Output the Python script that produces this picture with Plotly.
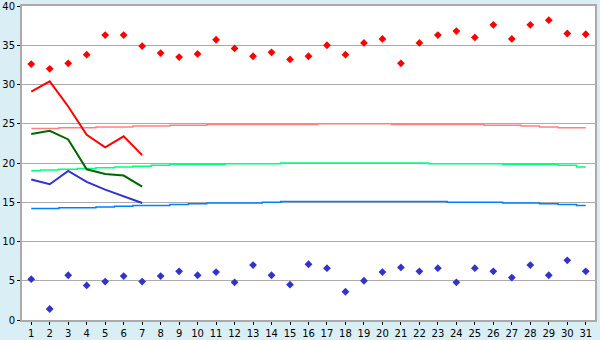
import plotly.graph_objects as go

days = list(range(1, 32))

max_temps = [32.6, 32.0, 32.7, 33.8, 36.3, 36.3, 34.9, 34.0, 33.5, 33.9,
             35.7, 34.6, 33.6, 34.1, 33.2, 33.6, 35.0, 33.8, 35.3, 35.8,
             32.7, 35.3, 36.3, 36.8, 36.0, 37.6, 35.8, 37.6, 38.2, 36.5, 36.4]
min_temps = [5.2, 1.4, 5.7, 4.4, 4.9, 5.6, 4.9, 5.6, 6.2, 5.7,
             6.1, 4.8, 7.0, 5.7, 4.5, 7.1, 6.6, 3.6, 5.0, 6.1,
             6.7, 6.2, 6.6, 4.8, 6.6, 6.2, 5.4, 7.0, 5.7, 7.6, 6.2]

fc_days = [1, 2, 3, 4, 5, 6, 7]
fc_max = [29.1, 30.4, 27.2, 23.6, 22.0, 23.4, 21.0]
fc_mean = [23.7, 24.1, 23.0, 19.2, 18.6, 18.4, 17.0]
fc_min = [17.9, 17.3, 19.0, 17.6, 16.6, 15.7, 14.9]

norm_max = [24.4, 24.4, 24.5, 24.5, 24.6, 24.6, 24.7, 24.7, 24.8, 24.8,
            24.9, 24.9, 24.9, 24.9, 24.9, 24.9, 25.0, 25.0, 25.0, 25.0,
            24.9, 24.9, 24.9, 24.9, 24.9, 24.8, 24.8, 24.7, 24.6, 24.5, 24.5]
norm_mean = [19.0, 19.1, 19.2, 19.3, 19.4, 19.5, 19.6, 19.7, 19.8, 19.8,
             19.8, 19.9, 19.9, 19.9, 20.0, 20.0, 20.0, 20.0, 20.0, 20.0,
             20.0, 20.0, 19.9, 19.9, 19.9, 19.9, 19.8, 19.8, 19.8, 19.7, 19.5]
norm_min = [14.2, 14.2, 14.3, 14.3, 14.4, 14.5, 14.6, 14.6, 14.7, 14.8,
            14.9, 14.9, 14.9, 15.0, 15.1, 15.1, 15.1, 15.1, 15.1, 15.1,
            15.1, 15.1, 15.1, 15.0, 15.0, 15.0, 14.9, 14.9, 14.8, 14.7, 14.6]

fig = go.Figure()

fig.add_trace(go.Scatter(x=days, y=norm_max, mode="lines",
                         line=dict(color="#ff8080", width=1.5, shape="hvh")))
fig.add_trace(go.Scatter(x=days, y=norm_mean, mode="lines",
                         line=dict(color="#00ff80", width=1.5, shape="hvh")))
fig.add_trace(go.Scatter(x=days, y=norm_min, mode="lines",
                         line=dict(color="#0080ff", width=1.5, shape="hvh")))

fig.add_trace(go.Scatter(x=fc_days, y=fc_max, mode="lines",
                         line=dict(color="#ff0000", width=2)))
fig.add_trace(go.Scatter(x=fc_days, y=fc_mean, mode="lines",
                         line=dict(color="#006600", width=2)))
fig.add_trace(go.Scatter(x=fc_days, y=fc_min, mode="lines",
                         line=dict(color="#3333cc", width=2)))

fig.add_trace(go.Scatter(x=days, y=max_temps, mode="markers",
                         marker=dict(symbol="diamond", size=6, color="#ff0000")))
fig.add_trace(go.Scatter(x=days, y=min_temps, mode="markers",
                         marker=dict(symbol="diamond", size=6, color="#3333cc")))

fig.update_layout(
    width=600, height=340,
    margin=dict(l=22, r=5, t=6, b=20),
    paper_bgcolor="#d9eff5",
    plot_bgcolor="#ffffff",
    showlegend=False,
    font=dict(family="DejaVu Sans", size=10, color="#000000"),
)
fig.update_xaxes(
    range=[0.5, 31.5], tickmode="array", tickvals=days,
    ticktext=[str(d) for d in days], automargin=False,
    ticklabeloverflow="allow",
    showgrid=False, zeroline=False,
    showline=True, linecolor="#aaaaaa", linewidth=2, mirror=True,
    ticks="outside", ticklen=3, tickcolor="#000000", tickwidth=1,
)
fig.update_yaxes(
    range=[0, 40], tickmode="array", tickvals=[0, 5, 10, 15, 20, 25, 30, 35, 40],
    automargin=False, ticklabeloverflow="allow",
    showgrid=True, gridcolor="#aaaaaa", gridwidth=1, zeroline=False,
    showline=True, linecolor="#aaaaaa", linewidth=2, mirror=True,
    ticks="outside", ticklen=3, tickcolor="#000000", tickwidth=1,
)

fig.write_html("out.html")
